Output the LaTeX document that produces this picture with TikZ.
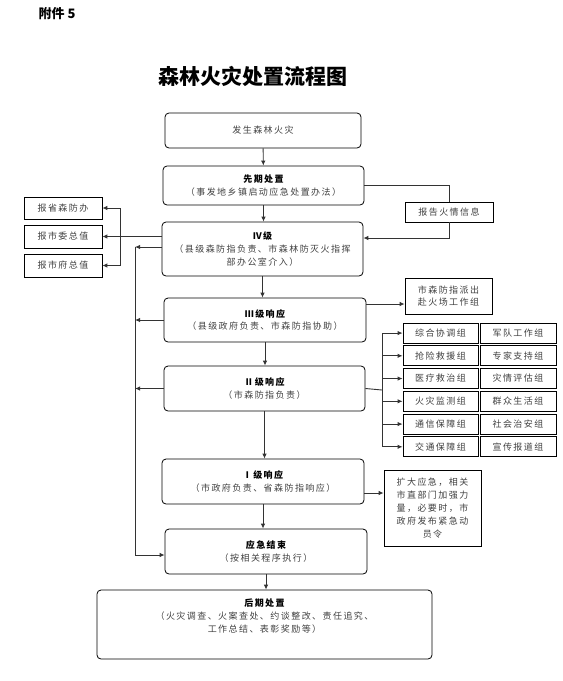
\documentclass[tikz,border=0pt]{standalone}
\usepackage{fontspec}
\setmainfont{Noto Sans CJK SC}
\newfontfamily\boxfont{Noto Sans CJK SC}[LetterSpace=16]
\usetikzlibrary{arrows.meta}

\newcommand\boxsize{\fontsize{9}{12.8}\selectfont}
\newcommand\hd[1]{\textcolor{black}{\bfseries #1}}

\tikzset{
  stage/.style={draw, rounded corners=4pt, line width=0.8pt, align=center,
    inner sep=2pt, text=black!75, font=\boxfont\boxsize},
  plainbox/.style={draw, line width=0.8pt, align=center, inner sep=2pt,
    text=black!75, font=\boxfont\boxsize},
  arr/.style={-{Latex[length=5pt,width=4.5pt]}, line width=0.9pt, draw=black!80},
  link/.style={line width=0.9pt, draw=black!80}
}

\begin{document}
\begin{tikzpicture}[x=1pt,y=-1pt]

  % page frame
  \useasboundingbox (0,0) rectangle (563,681);

  % heading
  \node[anchor=west, font=\bfseries\fontsize{13}{15}\selectfont] (att) at (35,14) {附件 5};
  \node[font=\bfseries\fontsize{21}{24}\selectfont] (title) at (253,76) {森林火灾处置流程图};

  % main column
  \node[stage, minimum width=196pt, minimum height=35pt] (fire) at (263,130.5) {发生森林火灾};
  \node[stage, minimum width=201pt, minimum height=39pt] (pre) at (263.5,185.5)
    {\hd{先期处置}\\（事发地乡镇启动应急处置办法）};
  \node[stage, minimum width=201pt, minimum height=54pt] (lvl4) at (262.5,249)
    {\hd{Ⅳ级}\\（县级森防指负责、市森林防灭火指挥\\部办公室介入）};
  \node[stage, minimum width=202pt, minimum height=44pt] (lvl3) at (265,320)
    {\hd{Ⅲ级响应}\\（县级政府负责、市森防指协助）};
  \node[stage, minimum width=201pt, minimum height=45pt] (lvl2) at (264.5,388.5)
    {\hd{Ⅱ级响应}\\（市森防指负责）};
  \node[stage, minimum width=202pt, minimum height=45pt] (lvl1) at (263,481.5)
    {\hd{Ⅰ级响应}\\（市政府负责、省森防指响应）};
  \node[stage, minimum width=202pt, minimum height=45pt] (endresp) at (266,551.5)
    {\hd{应急结束}\\（按相关程序执行）};
  \node[stage, minimum width=335pt, minimum height=69pt] (post) at (264.5,624.5)
    {\hd{后期处置}\\（火灾调查、火案查处、约谈整改、责任追究、\\工作总结、表彰奖励等）\\[5pt]\mbox{}};

  % side boxes
  \node[plainbox, minimum width=88pt, minimum height=20pt] (report) at (449,212) {报告火情信息};
  \node[plainbox, minimum width=78pt, minimum height=22pt] (prov) at (63,208) {报省森防办};
  \node[plainbox, minimum width=78pt, minimum height=23pt] (cmte) at (63,236.5) {报市委总值};
  \node[plainbox, minimum width=78pt, minimum height=23pt] (govt) at (63,265.5) {报市府总值};
  \node[plainbox, minimum width=87pt, minimum height=36pt] (team) at (448.5,296)
    {市森防指派出\\赴火场工作组};
  \node[plainbox, minimum width=97pt, minimum height=76pt] (expand) at (432.5,508)
    {扩大应急，相关\\市直部门加强力\\量，必要时，市\\政府发布紧急动\\员令};

  % helper coordinates
  \coordinate (brk) at (120,237);
  \coordinate (fb) at (135,247);
  \coordinate (bus) at (382,390);
  \coordinate (t3) at ([yshift=16pt]lvl3.east);
  \coordinate (t1) at ([yshift=-11.5pt]lvl1.east);

  % working groups
  \foreach \a/\b [count=\i] in {综合协调组/军队工作组, 抢险救援组/专家支持组,
      医疗救治组/灾情评估组, 火灾监测组/群众生活组, 通信保障组/社会治安组,
      交通保障组/宣传报道组}{
    \node[plainbox, minimum width=75pt, minimum height=20pt] (gl\i) at (440.5,{310.3+22.75*\i}) {\a};
    \node[plainbox, minimum width=76pt, minimum height=20pt] (gr\i) at (518,{310.3+22.75*\i}) {\b};
    \draw[arr] (bus |- gl\i.west) -- (gl\i.west);
  }

  % main flow
  \draw[arr] (fire) -- (pre);
  \draw[arr] (pre) -- (pre.south |- lvl4.north);
  \draw[arr] (lvl4.south |- lvl4.south) -- (lvl4.south |- lvl3.north);
  \draw[arr] (lvl3.south) -- (lvl3.south |- lvl2.north);
  \draw[arr] (lvl2.south) -- (lvl2.south |- lvl1.north);
  \draw[arr] (lvl1.south) -- (lvl1.south |- endresp.north);
  \draw[arr] (endresp.south) -- (endresp.south |- post.north);

  % fire report loop
  \draw[link] (pre.east) -| (report.north);
  \draw[arr] (report.south) |- ([yshift=11pt]lvl4.east);

  % reports to the left
  \draw[arr] (lvl4.west |- cmte.east) -- (cmte.east);
  \draw[arr] (brk |- prov.east) -- (prov.east);
  \draw[link] (brk |- prov.east) -- (brk |- govt.east);
  \draw[arr] (brk |- govt.east) -- (govt.east);

  % feedback line to the end of response
  \draw[arr] ([yshift=2pt]lvl4.west) -- (fb);
  \draw[arr] (lvl3.west) -- (fb |- lvl3.west);
  \draw[arr] (lvl2.west) -- (fb |- lvl2.west);
  \draw[arr] (fb) |- ([yshift=-3.5pt]endresp.west);

  % right branches
  \draw[arr] (t3) -- (t3 -| team.west);
  \draw[link] (lvl2.east) -- (bus);
  \draw[link] (bus |- gl1.west) -- (bus |- gl6.west);
  \draw[arr] (t1) -- (t1 -| expand.west);

\end{tikzpicture}
\end{document}
